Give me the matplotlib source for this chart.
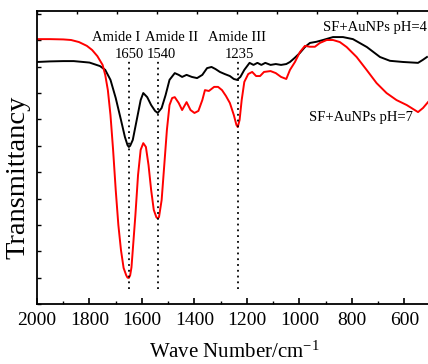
import numpy as np
import matplotlib
matplotlib.use('Agg')
from matplotlib import pyplot as plt
from matplotlib.ticker import MultipleLocator, NullFormatter

plt.rcParams['font.family'] = ['Liberation Serif', 'DejaVu Serif']
plt.rcParams['mathtext.default'] = 'regular'

# FTIR spectra, transmittance in arbitrary units (0-100)
wn_ph4 = [2000, 1950, 1900, 1860, 1800, 1760, 1740, 1720, 1700, 1680, 1665, 1655,
          1650, 1645, 1635, 1620, 1605, 1595, 1580, 1565, 1550, 1540, 1525, 1510,
          1495, 1475, 1460, 1447, 1430, 1410, 1390, 1370, 1352, 1335, 1320, 1303,
          1285, 1265, 1250, 1238, 1225, 1210, 1190, 1175, 1160, 1145, 1130, 1110,
          1090, 1070, 1050, 1036, 1018, 998, 979, 960, 935, 910, 872, 834, 796,
          743, 693, 655, 605, 548, 530, 514]
t_ph4 = [82.6, 82.8, 82.9, 82.9, 82.4, 81.2, 79.9, 76.5, 70.3, 62.8, 57.0, 54.2,
         53.6, 54.0, 56.0, 62.8, 69.6, 72.0, 70.6, 67.9, 65.9, 65.2, 66.9, 71.3,
         76.5, 78.8, 78.2, 77.5, 78.2, 77.5, 77.1, 78.2, 80.5, 80.9, 80.2, 79.2,
         78.5, 77.8, 76.8, 76.5, 77.5, 79.9, 82.3, 81.6, 82.3, 81.6, 82.3, 81.6,
         81.9, 81.6, 81.9, 82.6, 84.0, 85.7, 87.7, 89.1, 89.5, 90.1, 91.1, 91.1,
         90.4, 87.7, 84.3, 83.0, 82.6, 82.3, 83.3, 84.3]

wn_ph7 = [2000, 1950, 1900, 1870, 1840, 1810, 1790, 1770, 1750, 1740, 1730, 1720,
          1710, 1700, 1690, 1680, 1670, 1660, 1655, 1650, 1645, 1640, 1635, 1625,
          1615, 1605, 1595, 1585, 1575, 1565, 1555, 1545, 1540, 1535, 1525, 1515,
          1505, 1495, 1485, 1475, 1460, 1447, 1430, 1415, 1400, 1385, 1370, 1360,
          1345, 1325, 1310, 1295, 1280, 1265, 1250, 1240, 1235, 1228, 1220, 1210,
          1195, 1180, 1165, 1150, 1135, 1110, 1090, 1070, 1050, 1036, 1017, 998,
          979, 960, 941, 922, 896, 872, 846, 820, 782, 744, 706, 668, 630, 591,
          548, 529, 510]
t_ph7 = [90.4, 90.4, 90.3, 90.1, 89.4, 88.1, 86.7, 84.6, 81.6, 78.2, 73.0, 64.5,
         52.6, 38.9, 27.0, 18.4, 12.3, 9.8, 9.0, 8.9, 9.8, 12.5, 18.4, 30.4,
         44.0, 52.6, 54.9, 53.6, 47.4, 38.9, 32.1, 29.6, 29.2, 29.7, 35.5, 47.4,
         59.4, 67.9, 70.3, 70.6, 68.6, 66.2, 68.9, 66.2, 65.2, 65.9, 69.6, 73.0,
         72.7, 74.1, 74.1, 73.0, 71.0, 68.6, 64.5, 61.1, 60.4, 62.8, 69.6, 75.8,
         78.5, 79.2, 77.8, 77.8, 79.2, 79.5, 78.8, 77.5, 76.8, 79.9, 82.6, 86.0,
         88.1, 87.8, 87.8, 89.1, 90.1, 90.1, 89.4, 87.7, 84.3, 79.9, 75.4, 72.0,
         69.6, 67.9, 65.5, 66.9, 68.9]

peaks = [1650, 1540, 1235]
peak_names = ['Amide I', 'Amide II', 'Amide III']
name_pos = [1698, 1486, 1238]
num_pos = [1650, 1527, 1228]

fig = plt.figure(figsize=(4.28, 3.64), dpi=100)
ax = fig.add_axes([37/428, 60/364, 1 - 37/428, 293/364])

ax.plot(wn_ph4, t_ph4, color='black', lw=1.4)
ax.plot(wn_ph7, t_ph7, color='red', lw=1.4)

for p in peaks:
    ax.plot([p, p], [5, 84], color='black', lw=1.3, linestyle=(0, (1, 2.2)))

for name, x in zip(peak_names, name_pos):
    ax.text(x, 91, name, ha='center', va='center', fontsize=10.5)
for p, x in zip(peaks, num_pos):
    ax.text(x, 85, str(p), ha='center', va='center', fontsize=10.5)

ax.text(515, 94.5, 'SF+AuNPs pH=4', ha='right', va='center', fontsize=10.5)
ax.text(766, 63.8, 'SF+AuNPs pH=7', ha='center', va='center', fontsize=10.5)

ax.set_xlim(2000, 510)
ax.set_ylim(0, 100)
ax.spines['right'].set_visible(False)
for s in ['left', 'bottom', 'top']:
    ax.spines[s].set_linewidth(1.3)

ax.xaxis.set_major_locator(MultipleLocator(200))
ax.xaxis.set_minor_locator(MultipleLocator(100))
ax.yaxis.set_major_locator(MultipleLocator(9))
ax.yaxis.set_major_formatter(NullFormatter())
ax.tick_params(axis='x', which='major', direction='in', length=4, width=1.2,
               labelsize=14, pad=6)
ax.tick_params(axis='x', which='minor', direction='in', length=2.5, width=1.0)
ax.tick_params(axis='y', which='major', direction='in', length=3, width=1.0)

top = ax.secondary_xaxis('top', functions=(lambda w: (2000 - w) / 152.4,
                                           lambda k: 2000 - 152.4 * k))
top.xaxis.set_major_locator(MultipleLocator(1))
top.xaxis.set_major_formatter(NullFormatter())
top.tick_params(direction='in', length=2, width=1.0)
top.spines['top'].set_visible(False)

fig.text(18/428, 1 - 177/364, 'Transmittancy', rotation=90, ha='center',
         va='center', fontsize=20.5)
fig.text(234/428, 1 - 352/364, 'Wave Number/cm$^{-1}$', ha='center',
         va='center', fontsize=15)

fig.savefig('out.png', dpi=100)
